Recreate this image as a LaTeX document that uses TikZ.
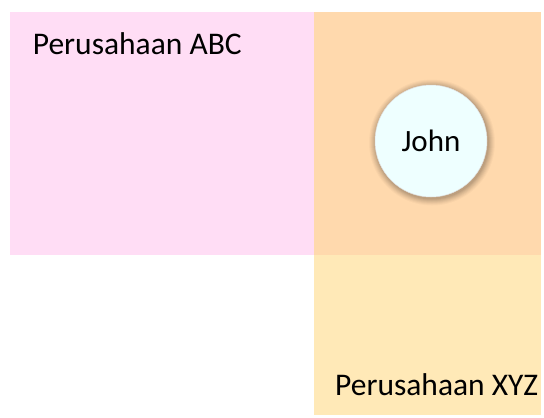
\documentclass[tikz,border=0pt]{standalone}
\usepackage{fontspec}
\setmainfont{Carlito}
\definecolor{pinkbox}{RGB}{255,221,245}
\definecolor{orangebox}{RGB}{255,217,173}
\definecolor{yellowbox}{RGB}{255,233,183}
\definecolor{circfill}{RGB}{238,255,255}
\tikzset{
  lbl/.style={font=\fontsize{31.5}{38}\selectfont, inner sep=0pt, anchor=base west},
  person/.style={circle, fill=circfill, draw=black!12, line width=0.5pt, minimum size=112pt, inner sep=0pt, font=\fontsize{31}{37}\selectfont}
}
\begin{document}
\begin{tikzpicture}[x=1pt,y=-1pt]
\useasboundingbox (0,0) rectangle (544,418);
\fill[white] (0,0) rectangle (544,418);
% regions
\fill[pinkbox] (10,12) rectangle (314,255);
\fill[orangebox] (314,12) rectangle (541,255);
\fill[yellowbox] (314,255) rectangle (541,415);
% soft shadow for the circle
\foreach \r/\o in {63/0.025,62/0.03,61/0.035,60/0.04,59/0.045,58/0.05,57/0.055}{
  \fill[black, opacity=\o] (432,142.5) circle (\r pt);
}
\node[lbl] (abc) at (32.7,54.3) {Perusahaan ABC};
\node[lbl] (xyz) at (335,395) {Perusahaan XYZ};
\node[person] (john) at (431,141) {John};
\end{tikzpicture}
\end{document}
